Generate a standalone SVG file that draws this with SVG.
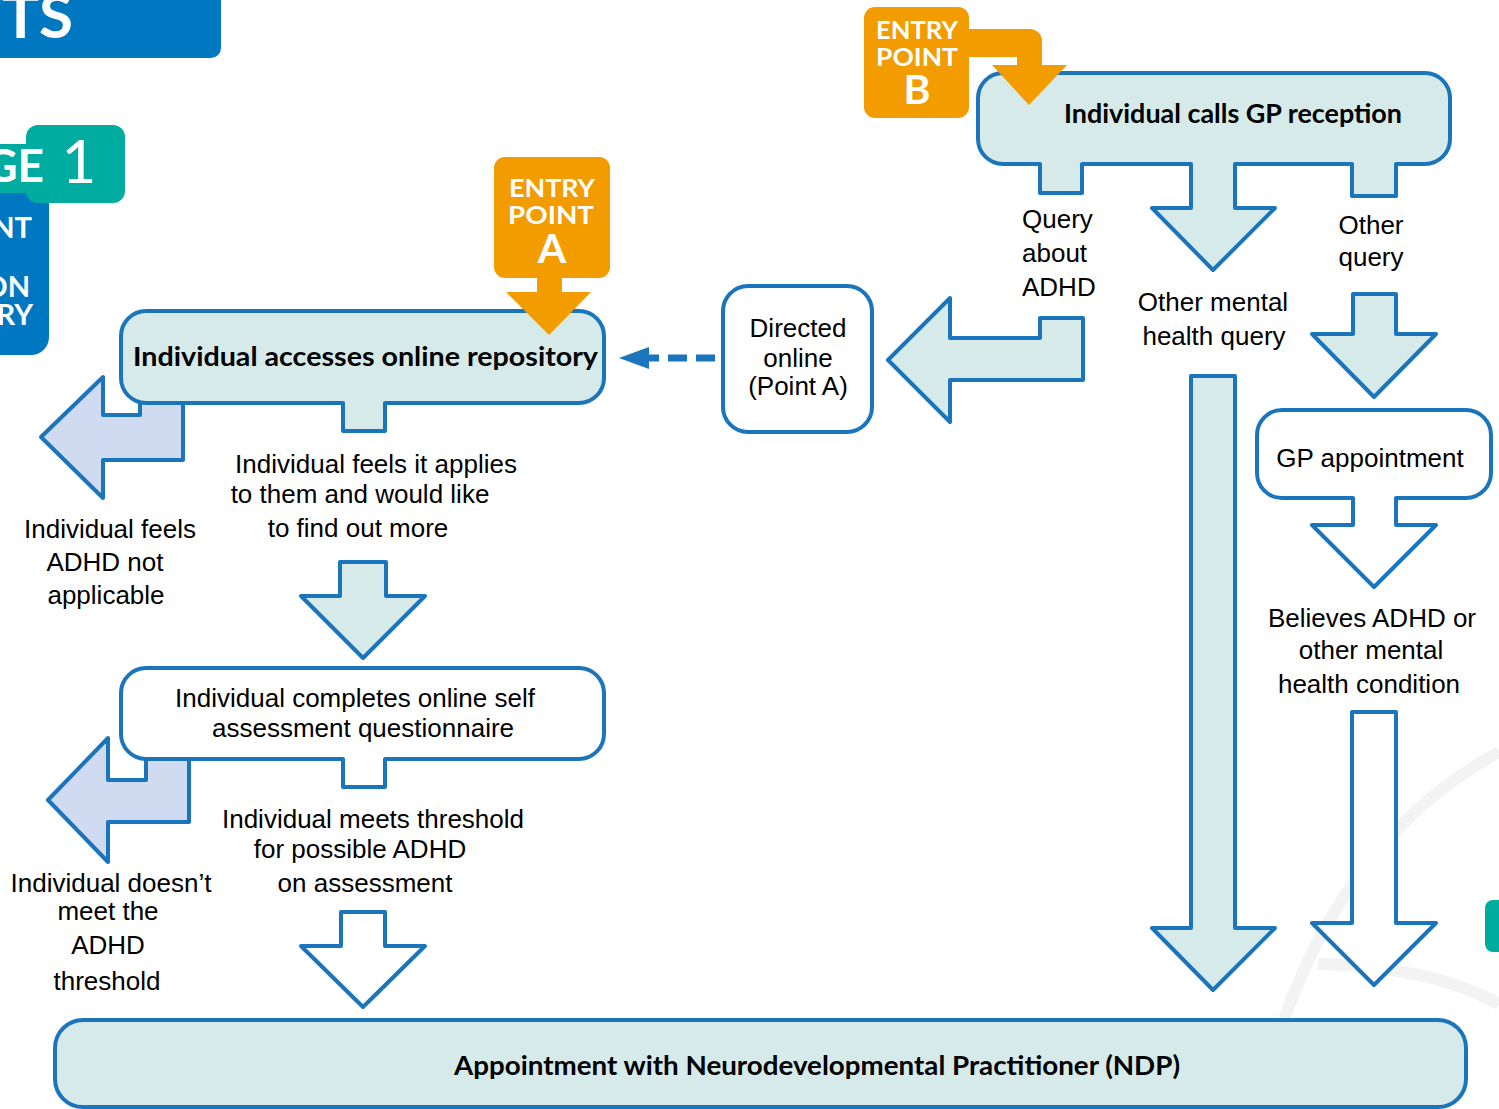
<svg xmlns="http://www.w3.org/2000/svg" width="1499" height="1109" viewBox="0 0 1499 1109">
  <style>
    .box { stroke: #1b75bc; stroke-width: 4; stroke-linejoin: round; }
    .teal { fill: #d5eae9; }
    .white { fill: #ffffff; }
    .lav { fill: #d0dbf2; }
    .lbl { font-family: "Liberation Sans", Arial, sans-serif; font-size: 26px; fill: #000; text-anchor: middle; }
    .lbl.start { text-anchor: start; }
    .bold { font-family: Lato, "Liberation Sans", sans-serif; font-weight: bold; font-size: 27px; fill: #000; text-anchor: middle; }
    .entry { font-family: Lato, "Liberation Sans", sans-serif; font-weight: bold; fill: #fff; text-anchor: middle; }
    .badge { font-family: Lato, "Liberation Sans", sans-serif; fill: #fff; }
    .bg { fill: none; stroke: #f3f3f3; stroke-width: 12; }
  </style>

  <rect width="1499" height="1109" fill="#ffffff"/>

  <!-- faint background emblem arcs -->
  <g id="background">
    <path class="bg" d="M1258,1109 Q1318,850 1499,752"/>
    <path class="bg" d="M1318,964 Q1430,966 1499,1004"/>
  </g>

  <!-- page heading and stage badges, cut at the left edge -->
  <g id="heading">
    <rect x="-20" y="-20" width="241" height="78" rx="10" fill="#0077c1"/>
    <text class="badge" x="73" y="38" font-size="62" font-weight="bold" text-anchor="end">TS</text>
  </g>
  <g id="stage-side">
    <rect x="-30" y="180" width="79" height="175" rx="18" fill="#0077c1"/>
    <text class="badge" x="32" y="238" font-size="29" font-weight="bold" text-anchor="end">NT</text>
    <text class="badge" x="30" y="297" font-size="29" font-weight="bold" text-anchor="end">ON</text>
    <text class="badge" x="33" y="325" font-size="29" font-weight="bold" text-anchor="end">RY</text>
  </g>
  <g id="stage-badge">
    <rect x="-20" y="144" width="80" height="49" fill="#00aca0"/>
    <rect x="26" y="125" width="99" height="78" rx="12" fill="#00aca0"/>
    <text class="badge" x="44" y="182" font-size="46" font-weight="bold" text-anchor="end">GE</text>
    <text class="badge" x="79" y="183" font-size="60" text-anchor="middle">1</text>
  </g>
  <rect x="1485" y="900" width="30" height="52" rx="8" fill="#00aca0"/>

  <!-- connectors: block arrows and the dashed link -->
  <g id="connectors">
    <!-- not applicable branch -->
    <polygon class="box lav" points="183,398 183,460 103,460 103,498 41,437 103,377 103,415 140,415 140,398"/>
    <!-- threshold not met branch -->
    <polygon class="box lav" points="189,755 189,822 108,822 108,862 48,800 108,738 108,780 146,780 146,755"/>
    <!-- repository to questionnaire -->
    <polygon class="box teal" points="340,562 386,562 386,596 425,596 363,658 301,596 340,596"/>
    <!-- questionnaire to NDP -->
    <polygon class="box white" points="341,912 385,912 385,946 425,946 363,1007 301,946 341,946"/>
    <!-- ADHD query directed online -->
    <polygon class="box teal" points="1083,318 1040,318 1040,338 950,338 950,298 888,360 950,422 950,380 1083,380"/>
    <!-- other mental health query to NDP -->
    <polygon class="box teal" points="1191,376 1235,376 1235,928 1275,928 1213,990 1152,928 1191,928"/>
    <!-- other query to GP appointment -->
    <polygon class="box teal" points="1353,294 1396,294 1396,334 1436,334 1374,397 1312,334 1353,334"/>
    <!-- GP belief to NDP -->
    <polygon class="box white" points="1352,712 1396,712 1396,923 1436,923 1374,985 1312,923 1352,923"/>
    <!-- dashed link back to the repository -->
    <line x1="715" y1="358" x2="646" y2="358" stroke="#1b75bc" stroke-width="7" stroke-dasharray="19,9"/>
    <polygon points="619,358 649,347 649,369" fill="#1b75bc"/>
  </g>

  <!-- Entry point A -->
  <g id="node-repository">
    <path class="box teal" d="M146,311 H579 A25,25 0 0 1 604,336 V378 A25,25 0 0 1 579,403 H385 V431 H343 V403 H146 A25,25 0 0 1 121,378 V336 A25,25 0 0 1 146,311 Z"/>
    <text class="bold" x="365.5" y="366" textLength="465" lengthAdjust="spacingAndGlyphs">Individual accesses online repository</text>
  </g>
  <g id="entry-a">
    <rect x="494" y="157" width="116" height="121" rx="11" fill="#f39c00"/>
    <polygon points="537,276 562,276 562,292 591,292 549,335 506,292 537,292" fill="#f39c00"/>
    <text class="entry" x="552" y="197" font-size="25" textLength="86" lengthAdjust="spacingAndGlyphs">ENTRY</text>
    <text class="entry" x="551" y="224" font-size="25" textLength="86" lengthAdjust="spacingAndGlyphs">POINT</text>
    <text class="entry" x="552" y="263" font-size="41">A</text>
  </g>

  <g id="label-not-applicable">
    <text class="lbl" x="110" y="538">Individual feels</text>
    <text class="lbl" x="105" y="571">ADHD not</text>
    <text class="lbl" x="106" y="604">applicable</text>
  </g>
  <g id="label-applies">
    <text class="lbl" x="376" y="473">Individual feels it applies</text>
    <text class="lbl" x="360" y="503">to them and would like</text>
    <text class="lbl" x="358" y="537">to find out more</text>
  </g>

  <g id="node-questionnaire">
    <path class="box white" d="M146,668 H579 A25,25 0 0 1 604,693 V734 A25,25 0 0 1 579,759 H385 V787 H343 V759 H146 A25,25 0 0 1 121,734 V693 A25,25 0 0 1 146,668 Z"/>
    <text class="lbl" x="355" y="707">Individual completes online self</text>
    <text class="lbl" x="363" y="737">assessment questionnaire</text>
  </g>

  <g id="label-threshold-met">
    <text class="lbl" x="373" y="828">Individual meets threshold</text>
    <text class="lbl" x="360" y="858">for possible ADHD</text>
    <text class="lbl" x="365" y="892">on assessment</text>
  </g>
  <g id="label-threshold-not-met">
    <text class="lbl" x="111" y="892">Individual doesn’t</text>
    <text class="lbl" x="108" y="920">meet the</text>
    <text class="lbl" x="108" y="954">ADHD</text>
    <text class="lbl" x="107" y="990">threshold</text>
  </g>

  <!-- Entry point B -->
  <g id="node-gp-reception">
    <path class="box teal" d="M1003,73 H1425 A25,25 0 0 1 1450,98 V139 A25,25 0 0 1 1425,164 H1396 V196 H1352 V164 H1235 V208 H1275 L1213,270 L1152,208 H1191 V164 H1082 V193 H1040 V164 H1003 A25,25 0 0 1 978,139 V98 A25,25 0 0 1 1003,73 Z"/>
    <text class="bold" x="1233" y="123" textLength="338" lengthAdjust="spacingAndGlyphs">Individual calls GP reception</text>
  </g>
  <g id="entry-b">
    <rect x="864" y="7" width="105" height="111" rx="11" fill="#f39c00"/>
    <path d="M960,29 H1030 A12,12 0 0 1 1042,41 V65 H1067 L1029,105 L992,65 H1017 V57 H960 Z" fill="#f39c00"/>
    <text class="entry" x="917" y="39" font-size="25" textLength="82" lengthAdjust="spacingAndGlyphs">ENTRY</text>
    <text class="entry" x="917" y="66" font-size="25" textLength="82" lengthAdjust="spacingAndGlyphs">POINT</text>
    <text class="entry" x="917" y="104" font-size="41">B</text>
  </g>

  <g id="label-query-adhd">
    <text class="lbl start" x="1022" y="228">Query</text>
    <text class="lbl start" x="1022" y="262">about</text>
    <text class="lbl start" x="1022" y="296">ADHD</text>
  </g>
  <g id="label-other-query">
    <text class="lbl" x="1371" y="234">Other</text>
    <text class="lbl" x="1371" y="266">query</text>
  </g>
  <g id="label-other-mental">
    <text class="lbl" x="1213" y="311">Other mental</text>
    <text class="lbl" x="1214" y="345">health query</text>
  </g>

  <g id="node-directed-online">
    <rect class="box white" x="723" y="286" width="149" height="146" rx="25"/>
    <text class="lbl" x="798" y="337">Directed</text>
    <text class="lbl" x="798" y="367">online</text>
    <text class="lbl" x="798" y="395">(Point A)</text>
  </g>

  <g id="node-gp-appointment">
    <path class="box white" d="M1282,410 H1466 A25,25 0 0 1 1491,435 V473 A25,25 0 0 1 1466,498 H1396 V525 H1436 L1374,587 L1312,525 H1353 V498 H1282 A25,25 0 0 1 1257,473 V435 A25,25 0 0 1 1282,410 Z"/>
    <text class="lbl" x="1370" y="467">GP appointment</text>
  </g>
  <g id="label-believes">
    <text class="lbl" x="1372" y="627">Believes ADHD or</text>
    <text class="lbl" x="1371" y="659">other mental</text>
    <text class="lbl" x="1369" y="693">health condition</text>
  </g>

  <g id="node-ndp">
    <rect class="box teal" x="55" y="1020" width="1411" height="87" rx="28"/>
    <text class="bold" x="817" y="1075" textLength="726" lengthAdjust="spacingAndGlyphs">Appointment with Neurodevelopmental  Practitioner (NDP)</text>
  </g>
</svg>
